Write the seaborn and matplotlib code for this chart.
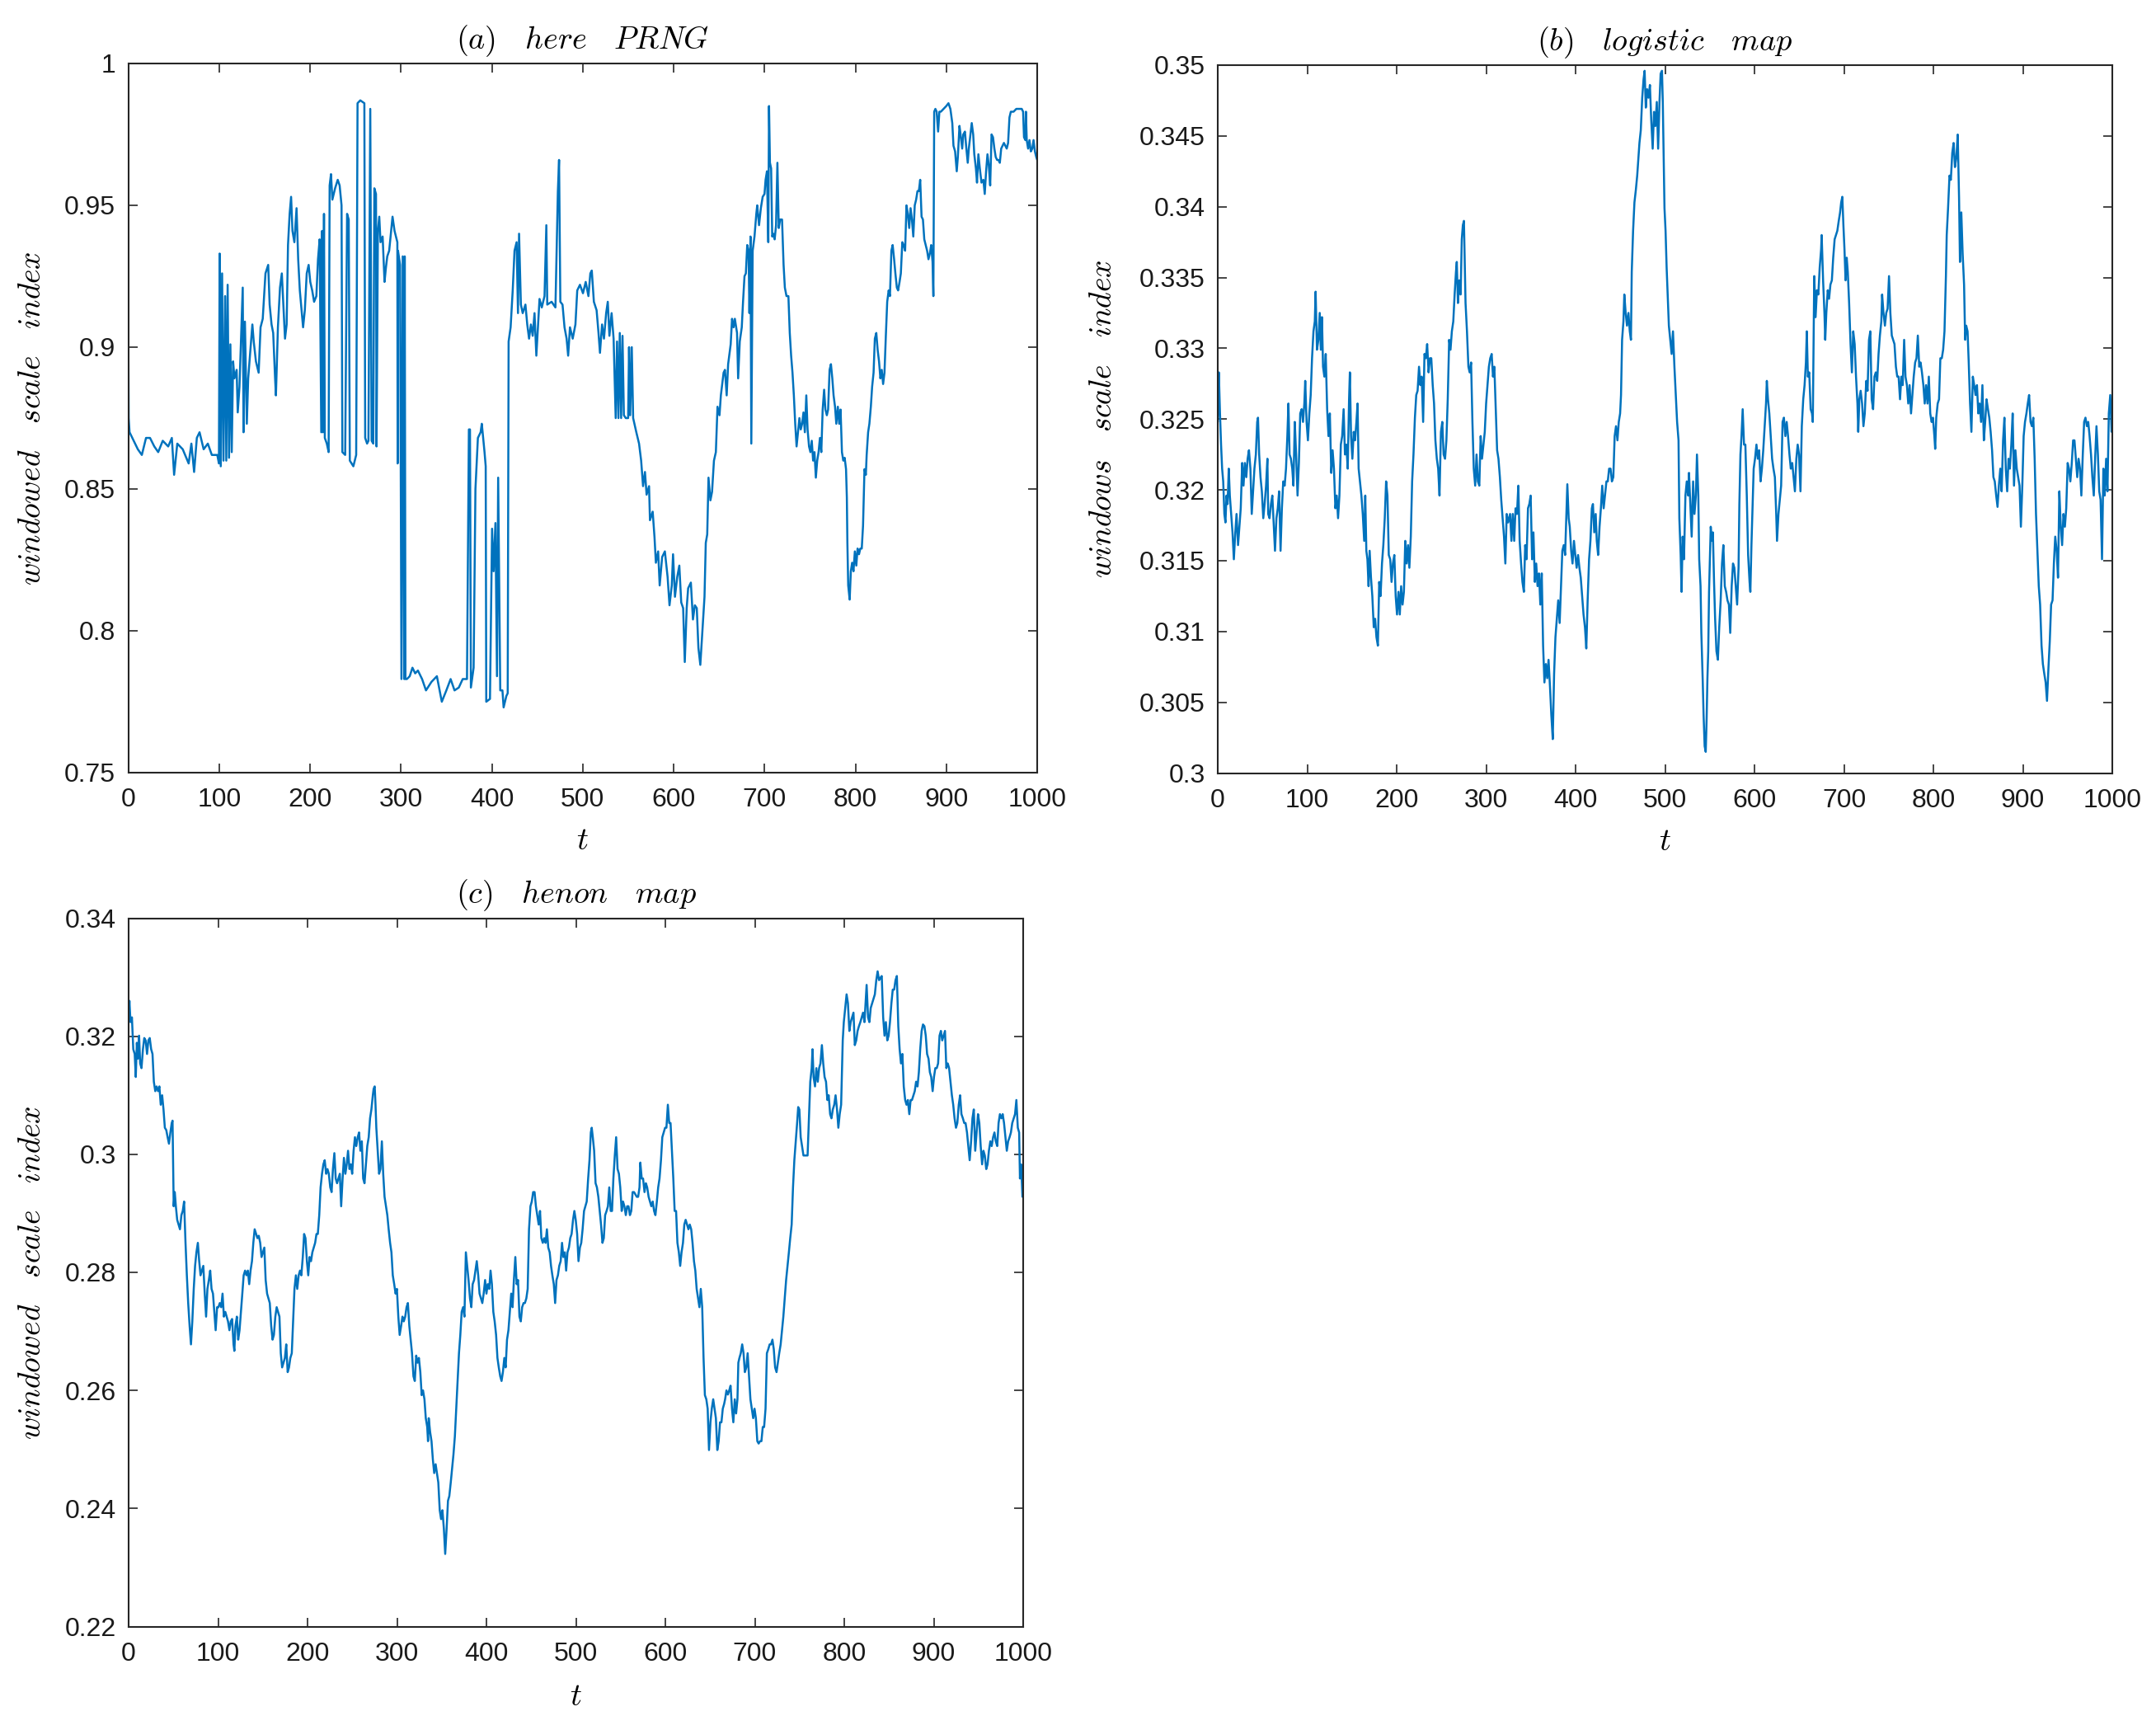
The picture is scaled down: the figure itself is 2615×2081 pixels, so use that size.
import matplotlib
matplotlib.use("Agg")
import numpy as np
import pandas as pd
import matplotlib.pyplot as plt
from matplotlib.ticker import FuncFormatter
import seaborn as sns

# ---------------- data (t, windowed scale index) ----------------
PRNG = [(0,0.912),(0.5,0.875),(1.5,0.870),(4.5,0.868),(10.6,0.864),(15,0.862),(19.6,0.868),(24,0.868),(28.7,0.865),(33,0.863),(38,0.867),(44,0.865),(48,0.868),(50.5,0.855),(54,0.866),(60,0.864),(66.5,0.859),(69.5,0.866),(72.5,0.856),(75.5,0.868),(78.5,0.870),(83,0.864),(87.6,0.866),(92,0.862),(98,0.862),(99.8,0.859),
(100.6,0.933),(101.8,0.858),(103.3,0.926),(104.8,0.860),(106.6,0.918),(107.9,0.860),(109.4,0.922),(110.9,0.861),(112.4,0.901),(113.9,0.863),(115.4,0.895),(116.9,0.889),(119.3,0.892),(120.5,0.877),(122.4,0.886),(124.5,0.907),(126,0.921),(126.9,0.870),(128.4,0.909),(130.5,0.873),(132,0.889),(134.4,0.899),(136.6,0.908),(138.1,0.902),(140.5,0.895),(143.5,0.891),(145.6,0.907),(148,0.910),(151,0.926),(154,0.929),(155.6,0.915),(157.7,0.908),(159.5,0.905),(161.6,0.889),(162.5,0.883),(164.7,0.907),(167,0.921),(169,0.926),(170.7,0.915),(172.5,0.903),(174.3,0.908),(175.8,0.936),(177.6,0.947),(179.2,0.953),(180.7,0.941),(182.8,0.937),(185.2,0.949),(187,0.931),(188.8,0.920),(191,0.912),(192.4,0.907),(194.3,0.913),(196.4,0.926),(198.5,0.929),(200.3,0.923),(202.4,0.920),(204.5,0.916),(207,0.918),(208.8,0.931),(210.6,0.938),(212.4,0.870),(213.3,0.941),(214.2,0.870),(215.4,0.947),(216.3,0.868),(218.5,0.866),(220.5,0.863),(221.6,0.957),(223.1,0.961),(224.6,0.952),(227.6,0.956),(230.5,0.959),(232.6,0.957),(234.7,0.950),(235.6,0.863),(238.7,0.862),(240.8,0.947),(242.6,0.945),(243.8,0.860),(247.7,0.858),(250.8,0.862),(252.3,0.986),(255.3,0.987),(259.8,0.986),(260.7,0.868),(262.8,0.866),(264.3,0.867),(266.3,0.984),(267.8,0.867),(269.6,0.866),(270.8,0.956),(272.6,0.954),(273.2,0.865),(274.7,0.941),(276.2,0.946),(277.6,0.937),(279.9,0.939),(282,0.923),(283.5,0.928),(285,0.932),(287.1,0.934),(290.8,0.946),(293,0.941),(296.1,0.937),(296.4,0.859),(296.8,0.934),(299.1,0.929),(300.6,0.783),(302,0.932),(303.6,0.783),(304.2,0.932),(305,0.783),(306.6,0.783),(309.7,0.784),(312.7,0.787),(315.7,0.785),(318.7,0.786),(323.3,0.783),(327.6,0.779),(333.6,0.782),(339.6,0.784),(345,0.775),(350,0.779),(354.7,0.783),(359,0.779),(363.7,0.780),(368,0.783),(372.7,0.783),(374.8,0.871),(376,0.871),(377,0.780),(380,0.787),(382,0.850),(384.7,0.868),(387.7,0.870),(389,0.873),(392,0.863),(393.3,0.858),(393.9,0.775),(398,0.776),(400.3,0.836),(402,0.821),(404,0.838),(405.7,0.784),(407,0.854),(409.3,0.779),(411.7,0.779),(413,0.773),(416,0.777),(417.5,0.778),(418.5,0.902),(420.7,0.907),(423,0.920),(425,0.934),(427.3,0.937),(428.8,0.912),(430,0.940),(432,0.915),(434,0.912),(437,0.915),(439,0.908),(441,0.903),(443,0.908),(445,0.904),(447,0.912),(449,0.897),(450.7,0.907),(452.5,0.917),(455,0.914),(458,0.918),(460,0.943),(461,0.915),(465.8,0.916),(470,0.914),(472.7,0.955),(474,0.966),(475.4,0.916),(477.8,0.915),(480,0.907),(482.3,0.903),(484,0.897),(486,0.907),(489,0.903),(492,0.908),(494,0.920),(497,0.922),(500.3,0.919),(503.3,0.923),(506.3,0.918),(508.4,0.926),(510,0.927),(512.3,0.916),(515.3,0.913),(517.4,0.905),(519,0.898),(521.3,0.908),(523.4,0.903),(525.8,0.912),(527.6,0.916),(529.4,0.904),(531.8,0.912),(534,0.903),(536.3,0.875),(537.8,0.902),(539.3,0.875),(540.8,0.905),(542.3,0.875),(543.8,0.904),(545.3,0.876),(547.4,0.875),(550,0.875),(551,0.900),(552.2,0.876),(554,0.900),(555.5,0.875),(559,0.870),(562,0.866),(564.3,0.860),(566.4,0.851),(568.5,0.856),(570.3,0.848),(573,0.851),(574,0.839),(577,0.842),(579,0.833),(580.5,0.824),(583,0.828),(584.7,0.816),(587.4,0.826),(590.4,0.828),(593.4,0.819),(595.5,0.809),(598,0.816),(599.4,0.827),(601.5,0.812),(604,0.819),(606.3,0.823),(608.4,0.810),(610.5,0.808),(612.3,0.789),(614.4,0.808),(616,0.815),(619,0.817),(621.3,0.804),(623.4,0.809),(625.5,0.808),(627.3,0.794),(629.4,0.788),(631.5,0.799),(634,0.812),(635.4,0.831),(637,0.834),(638.4,0.854),(640.5,0.846),(642.3,0.849),(644.4,0.860),(646.5,0.863),(648.3,0.879),(650.5,0.876),(652,0.883),(655,0.891),(656.5,0.892),(658.4,0.883),(660,0.894),(662.8,0.901),(664.3,0.910),(666,0.907),(667.4,0.910),(669.8,0.905),(671,0.889),(672.8,0.902),(675,0.907),(676.4,0.916),(678,0.925),(679.5,0.926),(681,0.936),(682.5,0.934),(683.4,0.912),(684.6,0.939),(685.5,0.866),(687,0.934),(689,0.939),(691,0.947),(692,0.950),(694,0.943),(696,0.949),(698,0.953),(700,0.954),(701.2,0.959),(702.7,0.962),(704.2,0.937),(705,0.985),(706,0.965),(707.3,0.963),(708.5,0.939),(709.7,0.940),(711.2,0.938),(712.7,0.943),(714.2,0.965),(715.7,0.942),(717.2,0.945),(719.3,0.945),(721,0.929),(722.4,0.921),(724.2,0.918),(726.3,0.918),(727.8,0.905),(729.3,0.897),(730.8,0.891),(732.3,0.883),(733.8,0.873),(735.3,0.865),(736.9,0.870),(738.4,0.875),(739.9,0.871),(741.4,0.873),(742.9,0.877),(744.4,0.870),(746,0.883),(747.4,0.871),(749,0.865),(750.5,0.863),(752,0.867),(753.5,0.860),(755,0.863),(756.5,0.854),(758,0.860),(759.5,0.863),(761,0.868),(762.5,0.863),(764,0.878),(765.6,0.885),(767,0.878),(768.6,0.876),(770,0.878),(771.6,0.892),(773.1,0.894),(774.6,0.889),(776,0.883),(777.6,0.879),(779,0.873),(780.7,0.879),(782.2,0.873),(783.7,0.878),(785.2,0.863),(786.7,0.860),(788.2,0.861),(789.7,0.857),(790.6,0.847),(791.2,0.831),(792.1,0.816),(793.7,0.811),(795,0.821),(796.4,0.824),(797.9,0.821),(799.4,0.828),(801,0.823),(802.4,0.829),(804,0.827),(805.4,0.829),(807,0.829),(808.4,0.837),(810,0.857),(811.5,0.855),(812.4,0.862),(814,0.870),(815.4,0.873),(817,0.879),(818.4,0.886),(820,0.891),(821.4,0.903),(823,0.905),(824.5,0.899),(826,0.895),(827.5,0.889),(829,0.892),(830.5,0.887),(832,0.891),(833.5,0.904),(835,0.916),(836.6,0.920),(838,0.918),(839.6,0.934),(841,0.936),(842.6,0.931),(844,0.926),(845.6,0.921),(847,0.920),(848.6,0.923),(850,0.926),(851.6,0.937),(853,0.936),(854.7,0.934),(856.2,0.950),(857.7,0.947),(859.2,0.942),(860.7,0.949),(862.2,0.945),(863.7,0.939),(865.3,0.950),(866.8,0.952),(868.3,0.955),(869.8,0.955),(871.3,0.959),(872.8,0.946),(874.3,0.945),(875.8,0.938),(877.3,0.936),(878.9,0.934),(880.4,0.931),(881.9,0.933),(883.4,0.936),(884.9,0.930),(885.8,0.918),(886.7,0.983),(888,0.984),(889.4,0.983),(891,0.976),(892.4,0.983),(894,0.983),(897,0.984),(900,0.985),(902.4,0.986),(904.5,0.984),(906.6,0.979),(907.9,0.971),(909.7,0.969),(911.5,0.962),(912.7,0.967),(914.5,0.978),(915.7,0.975),(917.5,0.970),(918.7,0.975),(920.5,0.976),(921.8,0.971),(923.6,0.965),(924.8,0.970),(926.6,0.975),(928,0.979),(929.6,0.975),(930.8,0.968),(932.6,0.963),(933.8,0.958),(935.3,0.968),(936.9,0.963),(938.7,0.958),(940.8,0.959),(942.3,0.954),(943.8,0.962),(945.3,0.968),(946.8,0.964),(948.3,0.957),(949.8,0.975),(951.4,0.974),(952.9,0.970),(954.4,0.967),(955.9,0.966),(957.4,0.966),(958.9,0.965),(960.4,0.970),(961.9,0.971),(963.4,0.972),(965,0.971),(966.5,0.970),(968,0.972),(969.5,0.981),(971,0.983),(974,0.983),(977,0.984),(980,0.984),(983,0.984),(984.5,0.983),(985.5,0.974),(987,0.973),(987.6,0.983),(988.5,0.973),(990,0.970),(991.5,0.973),(993,0.969),(994.6,0.970),(996,0.973),(997.5,0.969),(999,0.967),(1000,0.966)]

LOGISTIC = [(0,0.3248),(0.6,0.3261),(1.2,0.3283),(2.5,0.3254),(3.7,0.3232),(4.9,0.3215),(6.1,0.3206),(7.4,0.3183),(8.6,0.3177),(9.8,0.3196),(11,0.3190),(12.3,0.3215),(13.5,0.3196),(15,0.3183),(16.5,0.3170),(18,0.3151),(19.6,0.3170),(21,0.3183),(22.7,0.3161),(24.2,0.3174),(25.7,0.3187),(27.3,0.3219),(28.8,0.3203),(30.3,0.3219),(31.9,0.3209),(33.4,0.3222),(34.9,0.3228),(36.5,0.3215),(38,0.3183),(39.5,0.3199),(41,0.3215),(42.6,0.3225),(44.1,0.3248),(45,0.3251),(46.3,0.3225),(47.8,0.3209),(49.3,0.3199),(50.9,0.3180),(52.4,0.3190),(54,0.3203),(55.5,0.3222),(56.4,0.3183),(57.9,0.3180),(59.5,0.3190),(61,0.3196),(62.5,0.3177),(64,0.3157),(65.6,0.3180),(67.1,0.3187),(68.6,0.3199),(70.2,0.3157),(71.7,0.3187),(73.2,0.3206),(74.8,0.3203),(76.3,0.3215),(77.8,0.3238),(79,0.3261),(80.3,0.3225),(81.8,0.3222),(83.3,0.3215),(84.6,0.3203),(86.1,0.3248),(87.6,0.3225),(89.2,0.3196),(90.7,0.3219),(92.2,0.3254),(93.8,0.3257),(95.3,0.3248),(96.8,0.3261),(97.8,0.3277),(99.3,0.3248),(100.8,0.3235),(102.4,0.3254),(103.9,0.3267),(105.4,0.3293),(107,0.3312),(108.5,0.3319),(109.4,0.3340),(110.9,0.3299),(112.5,0.3306),(114,0.3325),(115.2,0.3299),(116.5,0.3322),(117.7,0.3287),(119.2,0.3280),(120.7,0.3296),(122.3,0.3257),(123.8,0.3238),(125.3,0.3254),(126.9,0.3212),(128.4,0.3228),(129.9,0.3215),(131.5,0.3187),(133,0.3196),(134.5,0.3180),(136,0.3196),(137.6,0.3232),(139.1,0.3238),(140.7,0.3257),(142.2,0.3225),(143.7,0.3232),(145.3,0.3215),(146.8,0.3264),(147.7,0.3283),(149,0.3238),(150.5,0.3222),(152,0.3241),(153.5,0.3235),(155,0.3248),(156.3,0.3261),(157.5,0.3215),(159,0.3206),(160.6,0.3196),(162.1,0.3183),(163.7,0.3164),(164.9,0.3196),(166.1,0.3157),(167.3,0.3151),(168.6,0.3132),(169.8,0.3157),(171.3,0.3138),(172.8,0.3125),(174.4,0.3103),(175.9,0.3109),(177.4,0.3096),(179,0.3090),(180.5,0.3135),(182,0.3125),(183.6,0.3148),(185.1,0.3161),(186.7,0.3180),(188.2,0.3206),(189.7,0.3196),(191.2,0.3154),(192.8,0.3151),(194.3,0.3135),(195.8,0.3148),(197.4,0.3154),(198.9,0.3125),(200.4,0.3112),(202,0.3128),(203.5,0.3112),(205,0.3132),(206.6,0.3119),(208.1,0.3128),(209.6,0.3164),(211.2,0.3148),(212.7,0.3161),(214.2,0.3145),(215.8,0.3167),(217.3,0.3206),(218.8,0.3225),(220.4,0.3251),(221.9,0.3267),(223.4,0.3270),(225,0.3287),(226.5,0.3274),(228,0.3280),(229.6,0.3248),(231.1,0.3296),(232.6,0.3293),(234.1,0.3303),(235.7,0.3283),(237.2,0.3293),(238.7,0.3293),(240.3,0.3274),(241.8,0.3261),(243.3,0.3235),(244.9,0.3222),(246.4,0.3215),(247.9,0.3196),(249.5,0.3241),(251,0.3248),(252.5,0.3225),(254.1,0.3222),(255.6,0.3235),(257.1,0.3264),(258.7,0.3306),(260.2,0.3299),(261.7,0.3312),(263.3,0.3319),(264.8,0.3338),(266.3,0.3354),(267.2,0.3361),(268.5,0.3332),(270,0.3348),(271.5,0.3338),(272.8,0.3377),(274,0.3387),(275.2,0.3390),(276.1,0.3361),(277,0.3332),(278.6,0.3312),(280.2,0.3287),(281.6,0.3283),(283.2,0.3290),(284.7,0.3248),(286.2,0.3215),(287.8,0.3203),(289.3,0.3225),(290.8,0.3206),(292.4,0.3203),(293.9,0.3238),(295.4,0.3222),(297,0.3232),(298.5,0.3241),(300,0.3261),(301.6,0.3274),(303.1,0.3287),(304.6,0.3293),(306.2,0.3296),(307.7,0.3280),(309.2,0.3287),(310.8,0.3257),(312.3,0.3228),(313.8,0.3222),(315.4,0.3209),(316.9,0.3193),(318.4,0.3180),(320,0.3167),(321.5,0.3148),(323,0.3183),(324.6,0.3177),(326.8,0.3183),(328.3,0.3164),(329.8,0.3183),(331.4,0.3164),(332.9,0.3187),(334.5,0.3183),(336,0.3203),(337.5,0.3164),(339.1,0.3148),(340.6,0.3135),(342.2,0.3128),(343.7,0.3161),(345.2,0.3151),(346.8,0.3187),(348.3,0.3190),(349.8,0.3196),(351.4,0.3151),(352.9,0.3170),(354.5,0.3135),(356,0.3148),(357.5,0.3132),(359.1,0.3141),(360.6,0.3119),(362.2,0.3141),(363.7,0.3090),(365.2,0.3064),(366.8,0.3077),(368.3,0.3067),(369.8,0.3080),(371.4,0.3061),(372.9,0.3041),(374.5,0.3024),(376,0.3070),(377.5,0.3096),(379.1,0.3109),(380.6,0.3122),(382.2,0.3106),(383.7,0.3132),(385.2,0.3157),(386.8,0.3161),(388.3,0.3154),(389.8,0.3183),(390.8,0.3204),(392.3,0.3180),(393.5,0.3174),(395.1,0.3157),(396.6,0.3148),(398.2,0.3164),(399.7,0.3154),(401.2,0.3145),(402.8,0.3154),(404.3,0.3145),(405.8,0.3138),(407.4,0.3125),(408.9,0.3112),(410.5,0.3103),(412,0.3088),(413.5,0.3122),(415.1,0.3151),(416.6,0.3164),(418.2,0.3187),(419.4,0.3190),(420.9,0.3170),(422.5,0.3183),(423.7,0.3164),(425.2,0.3154),(426.8,0.3174),(428.3,0.3187),(429.8,0.3203),(431.4,0.3187),(432.9,0.3196),(434.5,0.3206),(436,0.3206),(437.5,0.3215),(439.1,0.3215),(440.6,0.3206),(442.2,0.3209),(443.7,0.3238),(445.2,0.3245),(446.8,0.3235),(448.3,0.3248),(449.8,0.3254),(450.8,0.3267),(452,0.3306),(453.5,0.3319),(454.5,0.3338),(456,0.3325),(457.5,0.3316),(459.1,0.3325),(460.6,0.3312),(461.9,0.3306),(462.8,0.3354),(464.3,0.3383),(465.8,0.3403),(467.4,0.3412),(468.9,0.3422),(469.8,0.3430),(471.4,0.3445),(472.9,0.3454),(474.5,0.3477),(476,0.3490),(477.2,0.3496),(478.5,0.3470),(480,0.3483),(481.5,0.3477),(483.1,0.3486),(484.6,0.3461),(486.2,0.3441),(487.7,0.3467),(489.2,0.3457),(490.8,0.3474),(492.3,0.3441),(493.8,0.3474),(495.1,0.3494),(496.6,0.3496),(497.5,0.3474),(498.5,0.3435),(499.4,0.3399),(500.6,0.3383),(501.8,0.3357),(503.1,0.3335),(504.3,0.3316),(505.8,0.3306),(507.4,0.3296),(508.9,0.3312),(510.5,0.3287),(512,0.3267),(513.5,0.3248),(515.1,0.3235),(516,0.3180),(517.5,0.3154),(518.5,0.3128),(519.7,0.3167),(521.2,0.3151),(522.8,0.3196),(524.3,0.3206),(525.8,0.3196),(526.8,0.3212),(528.3,0.3190),(529.8,0.3167),(531.4,0.3206),(532.9,0.3183),(534.5,0.3196),(535.7,0.3225),(537.2,0.3196),(538.2,0.3151),(539.7,0.3132),(540.6,0.3099),(542.2,0.3064),(543.1,0.3041),(544.3,0.3019),(545.5,0.3015),(546.5,0.3038),(547.4,0.3067),(548.3,0.3086),(549.2,0.3128),(550.2,0.3151),(551.1,0.3174),(552.3,0.3164),(553.5,0.3170),(554.8,0.3135),(556,0.3109),(557.5,0.3086),(559.1,0.3080),(560.6,0.3103),(562.2,0.3122),(563.7,0.3148),(565.2,0.3161),(566.8,0.3132),(568.3,0.3128),(569.8,0.3122),(571.4,0.3119),(572.9,0.3099),(574.5,0.3132),(576,0.3148),(577.5,0.3145),(579.1,0.3132),(580.6,0.3119),(582.2,0.3145),(583.1,0.3190),(584.3,0.3225),(585.5,0.3238),(586.8,0.3257),(588.3,0.3232),(589.8,0.3232),(591.4,0.3196),(592.9,0.3154),(594.5,0.3135),(595.4,0.3128),(596.6,0.3161),(597.8,0.3187),(599.1,0.3215),(600.6,0.3222),(602.2,0.3232),(603.7,0.3222),(605.2,0.3228),(606.8,0.3206),(608.3,0.3215),(609.8,0.3228),(611.4,0.3245),(612.9,0.3261),(613.8,0.3277),(615.1,0.3264),(616.6,0.3254),(618.2,0.3238),(619.7,0.3222),(621.2,0.3215),(622.8,0.3209),(624.3,0.3183),(625.2,0.3164),(626.8,0.3183),(628.3,0.3193),(629.8,0.3203),(631.4,0.3248),(632.9,0.3251),(634.5,0.3238),(636,0.3248),(637.5,0.3238),(639.1,0.3225),(640.6,0.3215),(642.2,0.3219),(643.7,0.3209),(645.2,0.3199),(646.8,0.3222),(648.3,0.3232),(649.8,0.3225),(651.4,0.3199),(652.9,0.3245),(654.5,0.3264),(656,0.3274),(657.5,0.3290),(658.5,0.3312),(659.7,0.3280),(661.2,0.3283),(662.8,0.3257),(664.3,0.3254),(665.2,0.3248),(666.8,0.3351),(668.3,0.3322),(669.8,0.3341),(671.4,0.3338),(672.9,0.3357),(674.5,0.3370),(675.1,0.3380),(676.7,0.3348),(678.2,0.3325),(679.1,0.3306),(680.3,0.3325),(681.9,0.3341),(683.4,0.3335),(684.9,0.3345),(686.5,0.3348),(688,0.3364),(689.6,0.3377),(691.1,0.3380),(692.6,0.3383),(694.2,0.3390),(695.7,0.3396),(696.9,0.3403),(698.2,0.3407),(699.4,0.3387),(700.6,0.3370),(701.8,0.3348),(703.1,0.3364),(704.3,0.3354),(705.8,0.3332),(707.4,0.3303),(708.9,0.3283),(710.4,0.3312),(712,0.3303),(713.5,0.3280),(715.1,0.3261),(716,0.3241),(717.2,0.3264),(718.7,0.3270),(720.3,0.3261),(721.8,0.3245),(723.3,0.3254),(724.9,0.3277),(726.4,0.3270),(728,0.3306),(729.5,0.3312),(731,0.3264),(732.6,0.3257),(734.1,0.3280),(735.6,0.3283),(737.2,0.3277),(738.7,0.3296),(740.2,0.3309),(741.8,0.3319),(742.7,0.3338),(744.2,0.3325),(745.8,0.3316),(747.3,0.3325),(748.8,0.3328),(750.4,0.3351),(751.9,0.3325),(753.5,0.3309),(755,0.3306),(756.5,0.3303),(758.1,0.3287),(759.6,0.3280),(761.1,0.3280),(762.7,0.3264),(764.2,0.3280),(765.7,0.3274),(767.3,0.3306),(768.8,0.3280),(770.4,0.3274),(771.9,0.3261),(773.4,0.3274),(775,0.3254),(776.5,0.3267),(778,0.3280),(779.6,0.3290),(781.1,0.3293),(782.6,0.3309),(784.2,0.3287),(785.7,0.3290),(787.2,0.3283),(788.8,0.3274),(790.3,0.3261),(791.8,0.3274),(793.4,0.3261),(794.9,0.3280),(796.5,0.3254),(798,0.3248),(799.5,0.3251),(801.1,0.3238),(802,0.3229),(803.2,0.3251),(804.8,0.3261),(806.3,0.3264),(807.8,0.3293),(809.4,0.3293),(810.9,0.3299),(812.4,0.3312),(814,0.3351),(814.9,0.3380),(816.4,0.3399),(818,0.3422),(819.5,0.3419),(821.1,0.3438),(822.6,0.3445),(824.1,0.3428),(825.7,0.3435),(827.2,0.3451),(828.7,0.3406),(829.7,0.3361),(831.2,0.3396),(832.7,0.3367),(834.3,0.3345),(835.5,0.3306),(836.7,0.3316),(838.2,0.3312),(839.5,0.3290),(841,0.3261),(842.5,0.3241),(844.1,0.3280),(845.6,0.3274),(847.1,0.3267),(848.7,0.3274),(850.2,0.3254),(851.7,0.3261),(853.3,0.3248),(854.8,0.3274),(856.4,0.3235),(857.9,0.3248),(859.4,0.3264),(861,0.3257),(862.5,0.3251),(864,0.3241),(865.6,0.3228),(867.1,0.3209),(868.6,0.3206),(870.2,0.3196),(871.7,0.3188),(873.2,0.3203),(874.8,0.3215),(876.3,0.3199),(877.9,0.3235),(879.4,0.3251),(880.9,0.3215),(882.5,0.3199),(884,0.3222),(885.5,0.3215),(887.1,0.3232),(888.6,0.3254),(890.1,0.3203),(891.7,0.3228),(893.2,0.3215),(894.8,0.3209),(896.3,0.3203),(897.8,0.3174),(899.4,0.3203),(900.9,0.3238),(902.4,0.3248),(904,0.3254),(905.5,0.3261),(907,0.3267),(908.6,0.3248),(910.1,0.3245),(911.7,0.3251),(913.2,0.3222),(914.7,0.3183),(916.3,0.3157),(917.8,0.3132),(919.3,0.3119),(920.9,0.3090),(922.4,0.3077),(924,0.3070),(925.5,0.3064),(927,0.3051),(928.6,0.3074),(930.1,0.3093),(931.6,0.3119),(933.2,0.3122),(934.7,0.3148),(936.2,0.3167),(937.8,0.3157),(939.3,0.3138),(940.8,0.3199),(942.4,0.3174),(943.9,0.3161),(945.4,0.3183),(947,0.3174),(948.5,0.3187),(950.1,0.3219),(951.6,0.3215),(953.1,0.3206),(954.7,0.3219),(956.2,0.3235),(957.7,0.3235),(959.3,0.3222),(960.8,0.3209),(962.3,0.3222),(963.9,0.3215),(965.4,0.3196),(967,0.3225),(968.5,0.3248),(970,0.3251),(971.6,0.3245),(973.1,0.3248),(974.6,0.3238),(976.2,0.3225),(977.7,0.3209),(979.3,0.3196),(980.8,0.3222),(982.3,0.3245),(983.9,0.3225),(985.4,0.3199),(986.9,0.3193),(988.5,0.3151),(990,0.3215),(991.5,0.3196),(993.1,0.3222),(994.6,0.3199),(996.1,0.3254),(997.7,0.3267),(999.2,0.3241),(1000,0.3254)]

HENON = [(0,0.3232),(0.9,0.3260),(2.1,0.3224),(3.7,0.3232),(5.2,0.3178),(6.8,0.3170),(8,0.3131),(9.2,0.3189),(10.4,0.3162),(11.7,0.3201),(12.9,0.3154),(14.4,0.3146),(16,0.3178),(17.5,0.3197),(19,0.3193),(20.6,0.3170),(22.1,0.3193),(23.6,0.3197),(25.2,0.3178),(26.7,0.3170),(28.2,0.3123),(29.8,0.3107),(31.3,0.3115),(32.9,0.3107),(34.4,0.3115),(35.9,0.3084),(37.5,0.3100),(39,0.3076),(40.5,0.3045),(42.1,0.3041),(43.6,0.3029),(45.1,0.3018),(46.7,0.3037),(48.2,0.3053),(49.1,0.3057),(50.4,0.2912),(51.6,0.2936),(52.8,0.2912),(54.3,0.2889),(55.9,0.2881),(57.4,0.2873),(59,0.2897),(60.5,0.2904),(62,0.2920),(63.6,0.2850),(65.1,0.2795),(66.6,0.2748),(68.2,0.2709),(69.7,0.2678),(71.2,0.2717),(72.8,0.2772),(74.3,0.2811),(75.8,0.2834),(77.4,0.2850),(78.9,0.2819),(80.4,0.2795),(82,0.2803),(83.5,0.2811),(85.1,0.2764),(86.6,0.2725),(88.1,0.2772),(89.7,0.2787),(91.2,0.2803),(92.7,0.2772),(94.3,0.2764),(95.8,0.2733),(97.3,0.2702),(98.9,0.2741),(100.4,0.2741),(101.9,0.2748),(103.5,0.2741),(105,0.2764),(106.5,0.2725),(108.1,0.2733),(109.6,0.2725),(111.1,0.2717),(112.7,0.2702),(114.2,0.2717),(115.7,0.2721),(117.3,0.2678),(118.2,0.2667),(119.4,0.2709),(121,0.2725),(122.5,0.2686),(124,0.2702),(125.6,0.2733),(127.1,0.2764),(128.6,0.2795),(130.2,0.2803),(131.7,0.2795),(133.3,0.2803),(134.8,0.2780),(136.3,0.2803),(137.9,0.2819),(139.4,0.2850),(140.9,0.2873),(142.5,0.2865),(144,0.2858),(145.5,0.2862),(147.1,0.2850),(148.6,0.2826),(150.1,0.2834),(151.7,0.2842),(153.2,0.2787),(154.8,0.2764),(156.3,0.2756),(157.8,0.2748),(159.4,0.2709),(160.9,0.2686),(162.4,0.2694),(164,0.2725),(165.5,0.2741),(167,0.2733),(168.6,0.2725),(170.1,0.2663),(171.6,0.2639),(173.2,0.2647),(174.7,0.2655),(176.2,0.2678),(177.8,0.2631),(179.3,0.2639),(180.8,0.2655),(182.4,0.2663),(183.9,0.2717),(185.4,0.2772),(187,0.2795),(188.5,0.2772),(190.1,0.2795),(191.6,0.2803),(193.1,0.2795),(194.7,0.2826),(196.2,0.2865),(197.7,0.2858),(199.3,0.2819),(200.8,0.2795),(202.3,0.2826),(203.9,0.2819),(205.4,0.2834),(206.9,0.2842),(208.5,0.2850),(210,0.2865),(211.5,0.2865),(213.1,0.2897),(214.6,0.2944),(216.2,0.2967),(217.7,0.2983),(219.2,0.2990),(220.8,0.2967),(222.3,0.2975),(223.8,0.2967),(225.4,0.2944),(226.9,0.2936),(228.4,0.2975),(230,0.3002),(231.5,0.2959),(233,0.2951),(234.6,0.2959),(236.1,0.2967),(237.6,0.2912),(239.2,0.2959),(240.7,0.2994),(242.3,0.2967),(243.8,0.2983),(245.3,0.3006),(246.9,0.2975),(248.4,0.2983),(249.9,0.2967),(251.5,0.3006),(253,0.3029),(254.5,0.3014),(256.1,0.3029),(257.6,0.3037),(259.1,0.3006),(260.7,0.3022),(262.2,0.2959),(263.7,0.2951),(265.3,0.2983),(266.8,0.3014),(268.4,0.3029),(269.9,0.3061),(271.4,0.3076),(273,0.3100),(273.9,0.3111),(275.1,0.3115),(276,0.3084),(276.9,0.3045),(278.5,0.3006),(280,0.2967),(281.5,0.2975),(283.1,0.3022),(284.6,0.2967),(286.1,0.2928),(287.7,0.2912),(289.2,0.2897),(290.7,0.2873),(292.3,0.2850),(293.8,0.2834),(295.3,0.2795),(296.9,0.2780),(298.4,0.2764),(299.9,0.2772),(301.5,0.2725),(303,0.2694),(304.6,0.2709),(306.1,0.2725),(307.6,0.2717),(309.2,0.2725),(310.7,0.2741),(312.2,0.2748),(313.8,0.2709),(315.3,0.2686),(316.8,0.2663),(318.4,0.2624),(319.9,0.2616),(321.5,0.2659),(323,0.2647),(324.5,0.2655),(326.1,0.2631),(327.6,0.2592),(329.1,0.2600),(330.7,0.2585),(332.2,0.2553),(333.8,0.2538),(334.7,0.2514),(335.5,0.2553),(337,0.2530),(338.6,0.2514),(340.1,0.2483),(341.6,0.2460),(343.2,0.2475),(344.7,0.2460),(346.2,0.2444),(347.8,0.2397),(349.3,0.2382),(350.8,0.2397),(352.4,0.2366),(353.9,0.2323),(355.5,0.2366),(357,0.2413),(358.5,0.2421),(360.1,0.2444),(361.6,0.2468),(363.1,0.2491),(364.7,0.2522),(366.2,0.2569),(367.7,0.2616),(369.3,0.2663),(370.8,0.2694),(372.3,0.2733),(373.9,0.2741),(375.4,0.2725),(377,0.2834),(378.5,0.2811),(380,0.2787),(381.6,0.2756),(383.1,0.2741),(384.6,0.2780),(386.2,0.2787),(387.7,0.2803),(389.2,0.2819),(390.8,0.2795),(392.3,0.2764),(393.9,0.2756),(395.4,0.2748),(396.9,0.2764),(398.5,0.2787),(400,0.2764),(401.5,0.2780),(403.1,0.2772),(404.6,0.2803),(406.1,0.2780),(407.7,0.2733),(409.2,0.2717),(410.8,0.2694),(412.3,0.2655),(413.8,0.2639),(415.4,0.2624),(416.9,0.2616),(418.4,0.2631),(420,0.2655),(421.5,0.2639),(423,0.2686),(424.6,0.2702),(426.1,0.2733),(427.7,0.2764),(429.2,0.2741),(430.7,0.2787),(432.3,0.2826),(433.8,0.2780),(435.3,0.2787),(436.9,0.2725),(438.4,0.2717),(439.9,0.2741),(441.5,0.2748),(443,0.2748),(444.6,0.2756),(446.1,0.2772),(447.6,0.2873),(449.2,0.2912),(450.7,0.2920),(452.2,0.2936),(453.8,0.2936),(455.3,0.2912),(456.8,0.2897),(458.4,0.2881),(459.9,0.2904),(461.4,0.2858),(463,0.2850),(464.5,0.2858),(466.1,0.2850),(467.6,0.2873),(469.1,0.2842),(470.7,0.2834),(472.2,0.2811),(473.7,0.2795),(475.3,0.2780),(476.8,0.2748),(478.3,0.2787),(479.9,0.2795),(481.4,0.2811),(483,0.2819),(484.5,0.2850),(486,0.2826),(487.6,0.2834),(489.1,0.2803),(490.6,0.2834),(492.2,0.2842),(493.7,0.2858),(495.2,0.2865),(496.8,0.2889),(498.3,0.2904),(499.8,0.2889),(501.4,0.2865),(502.9,0.2819),(504.5,0.2842),(506,0.2850),(507.5,0.2873),(509.1,0.2904),(510.6,0.2912),(512.1,0.2920),(513.7,0.2959),(515.2,0.2990),(516.7,0.3037),(517.7,0.3045),(518.9,0.3029),(520.4,0.3006),(522,0.2951),(523.5,0.2944),(525.1,0.2928),(526.6,0.2904),(528.1,0.2881),(529.7,0.2850),(531.2,0.2858),(532.7,0.2897),(534.3,0.2904),(535.8,0.2912),(537.3,0.2944),(538.9,0.2904),(540.4,0.2904),(541.9,0.2959),(543.5,0.2998),(545,0.3029),(546.6,0.2975),(548.1,0.2967),(549.6,0.2944),(551.2,0.2904),(552.7,0.2920),(554.2,0.2912),(555.8,0.2897),(557.3,0.2912),(558.8,0.2912),(560.4,0.2897),(561.9,0.2904),(563.4,0.2936),(565,0.2936),(566.5,0.2932),(568.1,0.2928),(569.6,0.2928),(571.1,0.2944),(572,0.2986),(573.6,0.2959),(575.1,0.2959),(576.7,0.2936),(578.2,0.2951),(579.7,0.2944),(581.3,0.2928),(582.8,0.2920),(584.3,0.2912),(585.9,0.2920),(587.4,0.2904),(588.9,0.2897),(590.5,0.2920),(592,0.2944),(593.5,0.2959),(595.1,0.2990),(596.6,0.3029),(598.2,0.3037),(599.7,0.3045),(601.2,0.3045),(602.8,0.3084),(604.3,0.3053),(605.8,0.3053),(607.4,0.3006),(608.9,0.2959),(610.4,0.2904),(612,0.2904),(613.5,0.2850),(615.1,0.2834),(616.6,0.2811),(618.1,0.2834),(619.7,0.2850),(621.2,0.2881),(622.7,0.2889),(624.3,0.2881),(625.8,0.2873),(627.3,0.2881),(628.9,0.2873),(630.4,0.2850),(632,0.2819),(633.5,0.2803),(635,0.2772),(636.6,0.2756),(638.1,0.2741),(639.6,0.2772),(641.2,0.2741),(642.7,0.2655),(644.2,0.2592),(645.8,0.2585),(647.3,0.2569),(648.8,0.2499),(650.4,0.2546),(651.9,0.2569),(653.5,0.2585),(655,0.2569),(656.5,0.2553),(658.1,0.2499),(659.6,0.2514),(661.1,0.2546),(662.7,0.2546),(664.2,0.2569),(665.7,0.2577),(666.8,0.2585),(668.3,0.2600),(669.9,0.2593),(671.4,0.2600),(672.9,0.2608),(674.5,0.2569),(676,0.2546),(677.6,0.2585),(679.1,0.2561),(680.6,0.2585),(681.6,0.2647),(682.8,0.2655),(684.3,0.2663),(685.9,0.2678),(687.4,0.2663),(688.9,0.2631),(690.5,0.2639),(692,0.2663),(693.5,0.2624),(695.1,0.2585),(696.6,0.2569),(698.2,0.2553),(699.7,0.2569),(701.2,0.2553),(702.8,0.2514),(704.3,0.2510),(705.8,0.2514),(707.4,0.2514),(708.9,0.2538),(710.4,0.2538),(712,0.2569),(713.5,0.2663),(715.1,0.2670),(716.6,0.2678),(718.1,0.2678),(719.7,0.2686),(721.2,0.2670),(722.7,0.2639),(724.3,0.2631),(725.8,0.2647),(727.3,0.2663),(728.9,0.2678),(730.4,0.2702),(731.9,0.2725),(733.5,0.2756),(735,0.2787),(736.6,0.2811),(738.1,0.2834),(739.6,0.2858),(741.2,0.2881),(742.7,0.2944),(744.2,0.2990),(745.8,0.3022),(747.3,0.3053),(748.5,0.3080),(749.8,0.3076),(751.3,0.3029),(752.8,0.3014),(754.4,0.2998),(755.9,0.2998),(757.4,0.2998),(759,0.2998),(760.5,0.3061),(762,0.3123),(763.6,0.3146),(764.5,0.3178),(765.7,0.3131),(767.3,0.3115),(768.8,0.3146),(770.4,0.3123),(771.9,0.3146),(773.4,0.3154),(775,0.3185),(776.5,0.3154),(778,0.3131),(779.6,0.3123),(781.1,0.3092),(782.6,0.3100),(784.2,0.3068),(785.7,0.3061),(787.2,0.3076),(788.8,0.3084),(790.3,0.3100),(791.9,0.3076),(793.4,0.3045),(794.9,0.3068),(796.5,0.3084),(797.4,0.3139),(798.3,0.3193),(799.5,0.3224),(801.1,0.3248),(802.6,0.3271),(804.1,0.3256),(805.7,0.3209),(807.2,0.3224),(808.8,0.3232),(810.3,0.3240),(811.8,0.3185),(813.4,0.3193),(814.9,0.3209),(816.4,0.3217),(818,0.3224),(819.5,0.3232),(821,0.3240),(822.6,0.3224),(824.1,0.3263),(825,0.3287),(826.6,0.3232),(828.1,0.3224),(829.6,0.3248),(831.2,0.3256),(832.7,0.3263),(834.2,0.3271),(835.8,0.3295),(837.3,0.3310),(838.9,0.3295),(840.4,0.3299),(841.9,0.3302),(843.5,0.3232),(845,0.3201),(846.5,0.3224),(848.1,0.3193),(849.6,0.3201),(851.1,0.3224),(852.7,0.3256),(854.2,0.3279),(855.8,0.3279),(857.3,0.3295),(858.8,0.3302),(860.4,0.3217),(861.9,0.3178),(863.4,0.3154),(865,0.3170),(866.5,0.3115),(868.1,0.3092),(869.6,0.3084),(871.1,0.3092),(872.7,0.3068),(874.2,0.3092),(875.7,0.3092),(877.3,0.3100),(878.8,0.3107),(880.3,0.3123),(881.9,0.3115),(883.4,0.3139),(884.9,0.3178),(886.5,0.3209),(888,0.3220),(889.6,0.3217),(891.1,0.3201),(892.6,0.3170),(894.2,0.3162),(895.7,0.3139),(897.2,0.3131),(898.8,0.3107),(900.3,0.3131),(901.8,0.3146),(903.4,0.3146),(904.9,0.3154),(906.5,0.3201),(908,0.3209),(909.5,0.3193),(911.1,0.3201),(912.6,0.3209),(914.1,0.3146),(915.7,0.3154),(917.2,0.3146),(918.7,0.3123),(920.3,0.3100),(921.8,0.3084),(923.3,0.3061),(924.9,0.3045),(926.4,0.3053),(928,0.3084),(929.5,0.3100),(931,0.3068),(932.6,0.3061),(934.1,0.3053),(935.6,0.3053),(937.2,0.3037),(938.7,0.3014),(940.2,0.2990),(941.8,0.3022),(943.3,0.3061),(944.8,0.3076),(946.4,0.3006),(947.9,0.3037),(949.5,0.3068),(951,0.3053),(952.5,0.3014),(954.1,0.2983),(955.6,0.3006),(957.1,0.2998),(958.7,0.2975),(960.2,0.2983),(961.7,0.3006),(963.3,0.3022),(964.8,0.3014),(966.4,0.3029),(967.9,0.3037),(969.4,0.3022),(971,0.3014),(972.5,0.3053),(974,0.3068),(975.6,0.3061),(977.1,0.3068),(978.6,0.3053),(980.2,0.3029),(981.7,0.3006),(983.2,0.3022),(984.8,0.3029),(986.3,0.3037),(987.8,0.3053),(989.4,0.3061),(990.9,0.3068),(992.4,0.3092),(994,0.3045),(995.5,0.3037),(996.4,0.2959),(997.7,0.2983),(999.2,0.2928),(1000,0.2944)]

X_TICKS = list(range(0, 1001, 100))
PRNG_YTICKS = [0.75, 0.80, 0.85, 0.90, 0.95, 1.00]
LOGISTIC_YTICKS = [0.300, 0.305, 0.310, 0.315, 0.320, 0.325, 0.330, 0.335, 0.340, 0.345, 0.350]
HENON_YTICKS = [0.22, 0.24, 0.26, 0.28, 0.30, 0.32, 0.34]

TITLES = [r'$(a)\quad here\quad PRNG$', r'$(b)\quad logistic\quad map$', r'$(c)\quad henon\quad map$']
YLABELS = [r'$windowed\quad scale\quad index$', r'$windows\quad scale\quad index$',
           r'$windowed\quad scale\quad index$']
XLABEL = r'$t$'

# ---------------- style ----------------
sns.set_theme(style="white")
plt.rcParams['font.family'] = ['Liberation Sans', 'DejaVu Sans']
plt.rcParams['mathtext.fontset'] = 'cm'

LINE_COLOR = '#0072BD'
AX_COLOR = '#262626'
W, H = 2615, 2081

fig = plt.figure(figsize=(W / 100, H / 100), dpi=100)
fig.patch.set_facecolor('white')


def px_axes(left, top, right, bottom):
    return fig.add_axes([left / W, 1 - bottom / H, (right - left) / W, (bottom - top) / H])


panels = [
    (px_axes(155.5, 77, 1258, 937), PRNG, (0.75, 1.0), PRNG_YTICKS, -0.0895, -0.076),
    (px_axes(1477, 79, 2562, 937.5), LOGISTIC, (0.30, 0.35), LOGISTIC_YTICKS, -0.1115, -0.076),
    (px_axes(156, 1113.5, 1241, 1972.5), HENON, (0.22, 0.34), HENON_YTICKS, -0.0915, -0.078),
]

for i, (ax, pts, ylim, yticks, ylab_x, xlab_y) in enumerate(panels):
    df = pd.DataFrame(pts, columns=['t', 'value'])
    sns.lineplot(data=df, x='t', y='value', ax=ax, color=LINE_COLOR, linewidth=1.8,
                 estimator=None, sort=False)
    ax.set_facecolor('white')
    ax.set_xlim(0, 1000)
    ax.set_ylim(*ylim)
    ax.set_xticks(X_TICKS)
    ax.set_yticks(yticks)
    ax.yaxis.set_major_formatter(FuncFormatter(lambda v, _: f'{v:g}'))
    ax.xaxis.set_major_formatter(FuncFormatter(lambda v, _: f'{v:g}'))
    ax.tick_params(axis='both', which='major', direction='in', length=8, width=1.2,
                   top=True, right=True, bottom=True, left=True,
                   labelsize=23, color=AX_COLOR, labelcolor='#1a1a1a')
    ax.tick_params(axis='x', pad=13)
    ax.tick_params(axis='y', pad=11)
    for s in ax.spines.values():
        s.set_visible(True)
        s.set_color(AX_COLOR)
        s.set_linewidth(1.5)
    ax.set_title(TITLES[i], fontsize=27.5, pad=13, color='black')
    ax.set_xlabel(XLABEL, fontsize=28, color='black')
    ax.set_ylabel(YLABELS[i], fontsize=27, color='black')
    ax.yaxis.set_label_coords(ylab_x, 0.5)
    ax.xaxis.set_label_coords(0.5, xlab_y)
    ax.grid(False)

fig.savefig('out.png', dpi=100, facecolor='white')
